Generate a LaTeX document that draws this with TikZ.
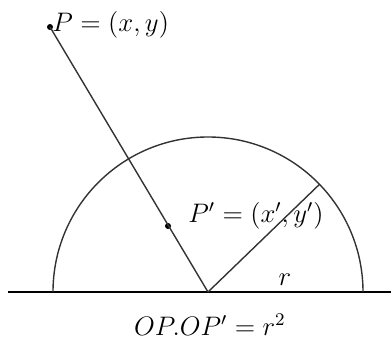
\documentclass[tikz,border=0pt]{standalone}
\usetikzlibrary{calc}
\begin{document}
\begin{tikzpicture}[x=0.5pt,y=0.5pt,
  geo/.style={line width=0.7pt,black!80},
  base/.style={line width=1pt,black},
  dot/.style={circle,fill=black,inner sep=0pt,minimum size=3pt},
  lbl/.style={inner sep=0pt,font=\fontsize{12}{14}\selectfont,scale=1.115,transform shape}]
\useasboundingbox (0,0) rectangle (391,344);
\coordinate (L) at (8,52);
\coordinate (R) at (391,52);
\coordinate (O) at (208,52);
\coordinate (A) at ($(O)+(44:155)$);
\node[dot] (P) at (50,317) {};
\node[dot] (Q) at (168,118) {};
\draw[base] (L) -- (R);
\draw[geo] ($(O)+(155,0)$) arc[start angle=0,end angle=180,radius=155];
\draw[geo] (P.center) -- (O);
\draw[geo] (O) -- (A);
\node[lbl,anchor=west] (Pl) at (52,319) {$P=(x,y)$};
\node[lbl] (Ql) at (256,128) {$P'=(x',y')$};
\node[lbl] (rl) at (285,64) {$r$};
\node[lbl] (eq) at (210,19) {$OP.OP'=r^2$};
\end{tikzpicture}
\end{document}
